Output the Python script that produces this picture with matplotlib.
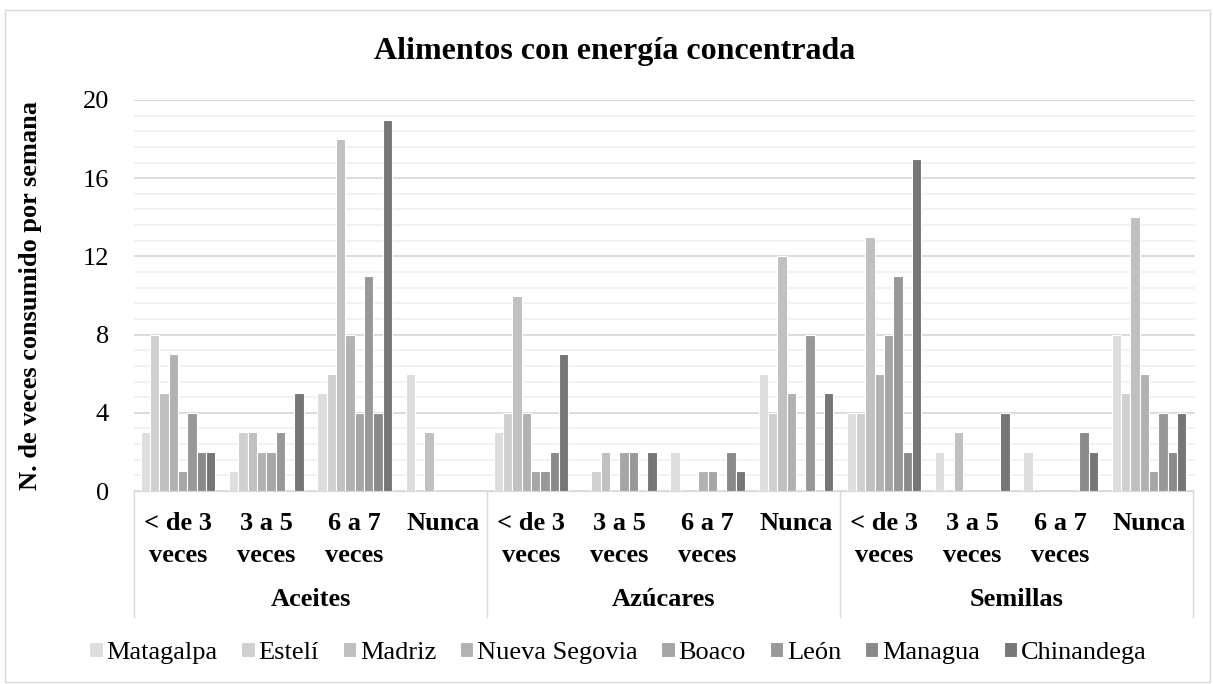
import matplotlib.pyplot as plt
from matplotlib.ticker import MultipleLocator
from matplotlib.patches import Rectangle
import numpy as np

plt.rcParams['font.family'] = ['Liberation Serif', 'DejaVu Serif']

foods = ['Aceites', 'Azúcares', 'Semillas']
freqs = ['< de 3\nveces', '3 a 5\nveces', '6 a 7\nveces', 'Nunca']
depts = ['Matagalpa', 'Estelí', 'Madriz', 'Nueva Segovia', 'Boaco', 'León', 'Managua', 'Chinandega']
colors = ['#dedede', '#d0d0d0', '#c0c0c0', '#b2b2b2', '#a6a6a6', '#989898', '#8a8a8a', '#767676']

# rows: one per frequency, columns: departments
aceites = [[3, 8, 5, 7, 1, 4, 2, 2],
           [1, 3, 3, 2, 2, 3, 0, 5],
           [5, 6, 18, 8, 4, 11, 4, 19],
           [6, 0, 3, 0, 0, 0, 0, 0]]
azucares = [[3, 4, 10, 4, 1, 1, 2, 7],
            [0, 1, 2, 0, 2, 2, 0, 2],
            [2, 0, 0, 1, 1, 0, 2, 1],
            [6, 4, 12, 5, 0, 8, 0, 5]]
semillas = [[4, 4, 13, 6, 8, 11, 2, 17],
            [2, 0, 3, 0, 0, 0, 0, 4],
            [2, 0, 0, 0, 0, 0, 3, 2],
            [8, 5, 14, 6, 1, 4, 2, 4]]

values = np.array(aceites + azucares + semillas)
ngroups = values.shape[0]

W, H = 1213, 684
fig = plt.figure(figsize=(W / 100, H / 100), dpi=100)
# light frame round the whole chart
fig.patches.append(Rectangle((5 / W, 2 / H), 1205 / W, 672 / H, transform=fig.transFigure,
                             fill=False, edgecolor='#d9d9d9', linewidth=1))

ax = fig.add_axes([134 / W, (H - 491) / H, (1195 - 134) / W, (491 - 100) / H])

bw = 0.1057
start = (1 - 8 * bw) / 2
x = np.arange(ngroups)
for j in range(len(depts)):
    ax.bar(x + start + bw * (j + 0.5), values[:, j], width=bw, color=colors[j],
           edgecolor='white', linewidth=0.8, label=depts[j], zorder=3)

ax.set_xlim(0, 1061 / 88.25)
ax.set_ylim(0, 20)
ax.yaxis.set_major_locator(MultipleLocator(4))
ax.yaxis.set_minor_locator(MultipleLocator(0.8))
ax.grid(which='minor', axis='y', color='#f0f0f0', linewidth=1.2, zorder=0)
ax.grid(which='major', axis='y', color='#d9d9d9', linewidth=1.3, zorder=1)
ax.tick_params(axis='y', which='both', length=0, labelsize=19, pad=18)
ax.tick_params(axis='x', which='both', length=0, labelbottom=False)
for s in ['top', 'right', 'left']:
    ax.spines[s].set_visible(False)
ax.spines['bottom'].set_color('#d9d9d9')
ax.spines['bottom'].set_bounds(0, 12)

# two level category axis
trans = ax.get_xaxis_transform()
for i in range(ngroups):
    lines = freqs[i % 4].split('\n')
    ax.text(i + 0.5, -(523 - 491) / 391, lines[0], transform=trans, ha='center', va='center',
            fontsize=19, fontweight='bold', clip_on=False)
    if len(lines) > 1:
        ax.text(i + 0.5, -(555 - 491) / 391, lines[1], transform=trans, ha='center', va='center',
                fontsize=19, fontweight='bold', clip_on=False)
for k, f in enumerate(foods):
    ax.text(4 * k + 2, -(600 - 491) / 391, f, transform=trans, ha='center', va='center',
            fontsize=19, fontweight='bold', clip_on=False)
for k in range(4):
    ax.plot([4 * k, 4 * k], [0, -(617 - 491) / 391], transform=trans, color='#d9d9d9',
            linewidth=1, clip_on=False)

ax.set_ylabel('N. de veces consumido por semana', fontsize=19, fontweight='bold')
ax.yaxis.set_label_coords(-(134 - 42) / 1061, 0.5)

fig.text(0.507, 1 - 52 / H, 'Alimentos con energía concentrada', ha='center', va='center',
         fontsize=23, fontweight='bold')

fig.legend(loc='center', bbox_to_anchor=(618 / W, 1 - 653 / H), ncol=8, frameon=False,
           fontsize=19, handlelength=0.5, handleheight=0.5, handletextpad=0.15,
           columnspacing=0.9)

fig.savefig('out.png', dpi=100)
